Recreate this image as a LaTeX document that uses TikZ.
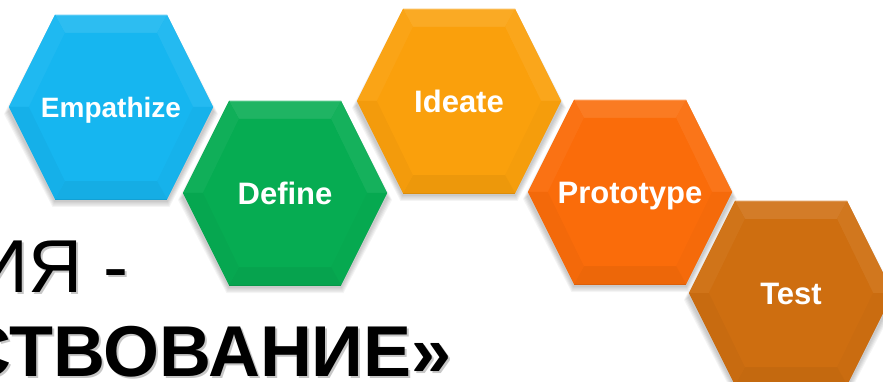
\documentclass[tikz,border=0pt]{standalone}
\usepackage{fontspec}
\setmainfont{Liberation Sans}
\definecolor{empblue}{RGB}{22,182,240}
\definecolor{defgreen}{RGB}{6,172,82}
\definecolor{ideorange}{RGB}{250,160,12}
\definecolor{proorange}{RGB}{250,108,10}
\definecolor{testbrown}{RGB}{206,110,16}

% One bevelled hexagon: name, centre x, centre y, colour, font size, label
\newcommand\hexcell[6]{%
  \begin{scope}[shift={(#2,#3)}]
    % soft shadow underneath
    \foreach \k in {1,...,5}{
      \fill[black,opacity=0.045]
        ({-102-\k},{4+0.6*\k}) -- ({-56-0.5*\k},{-92+4}) -- ({56+0.5*\k},{-92+4})
        -- ({102+\k},{4+0.6*\k}) -- ({56+0.5*\k},{92+2+1.2*\k}) -- ({-56-0.5*\k},{92+2+1.2*\k}) -- cycle;
    }
    % base body
    \fill[#4] (-102,0) -- (-56,-92) -- (56,-92) -- (102,0) -- (56,92) -- (-56,92) -- cycle;
    % bevel facets
    \fill[#4!90!white] (-56,-92) -- (56,-92) -- (46,-74) -- (-46,-74) -- cycle;
    \fill[#4!96!white] (-102,0) -- (-56,-92) -- (-46,-74) -- (-82,0) -- cycle;
    \fill[#4!94!white] (56,-92) -- (102,0) -- (82,0) -- (46,-74) -- cycle;
    \fill[#4!98!black] (102,0) -- (56,92) -- (46,74) -- (82,0) -- cycle;
    \fill[#4!95!black] (56,92) -- (-56,92) -- (-46,74) -- (46,74) -- cycle;
    \fill[#4!97!black] (-56,92) -- (-102,0) -- (-82,0) -- (-46,74) -- cycle;
    \fill[#4] (-82,0) -- (-46,-74) -- (46,-74) -- (82,0) -- (46,74) -- (-46,74) -- cycle;
    \draw[#4!75!white,line width=1pt] (-55.5,-91.5) -- (55.5,-91.5);
    \draw[#4!88!black,line width=0.8pt] (56,92) -- (-56,92);
    \node[hexlabel,font=\bfseries\fontsize{#5}{#5}\selectfont] (#1) at (0,{0.358*#5}) {#6};
  \end{scope}}

\begin{document}
\begin{tikzpicture}[x=1pt,y=-1pt,
  hexlabel/.style={text=white,inner sep=0pt,anchor=base},
  titleline/.style={inner sep=0pt,text=black},
  titleshade/.style={inner sep=0pt,text=black!55,opacity=0.4}]
  \useasboundingbox (0,0) rectangle (883,382);
  \clip (0,0) rectangle (883,382);
  \fill[white] (0,0) rectangle (883,382);

  % title text running off the left edge
  \node[titleshade,anchor=base east,font=\fontsize{75}{75}\selectfont] (t1s) at (130.5,294) {ИЯ -};
  \node[titleline,anchor=base east,font=\fontsize{75}{75}\selectfont] (t1) at (128.5,292) {ИЯ -};
  \node[titleshade,anchor=base west,font=\bfseries\fontsize{72}{72}\selectfont] (t2s) at (-39,378) {СТВОВАНИЕ»};
  \node[titleline,anchor=base west,font=\bfseries\fontsize{72}{72}\selectfont] (t2) at (-41,376) {СТВОВАНИЕ»};

  % the five stages
  \hexcell{empathize}{111}{107}{empblue}{28}{Empathize}
  \hexcell{define}{285}{193}{defgreen}{31}{Define}
  \hexcell{ideate}{459}{101}{ideorange}{31}{Ideate}
  \hexcell{prototype}{630}{192}{proorange}{31}{Prototype}
  \hexcell{test}{791}{293}{testbrown}{31}{Test}
\end{tikzpicture}
\end{document}
